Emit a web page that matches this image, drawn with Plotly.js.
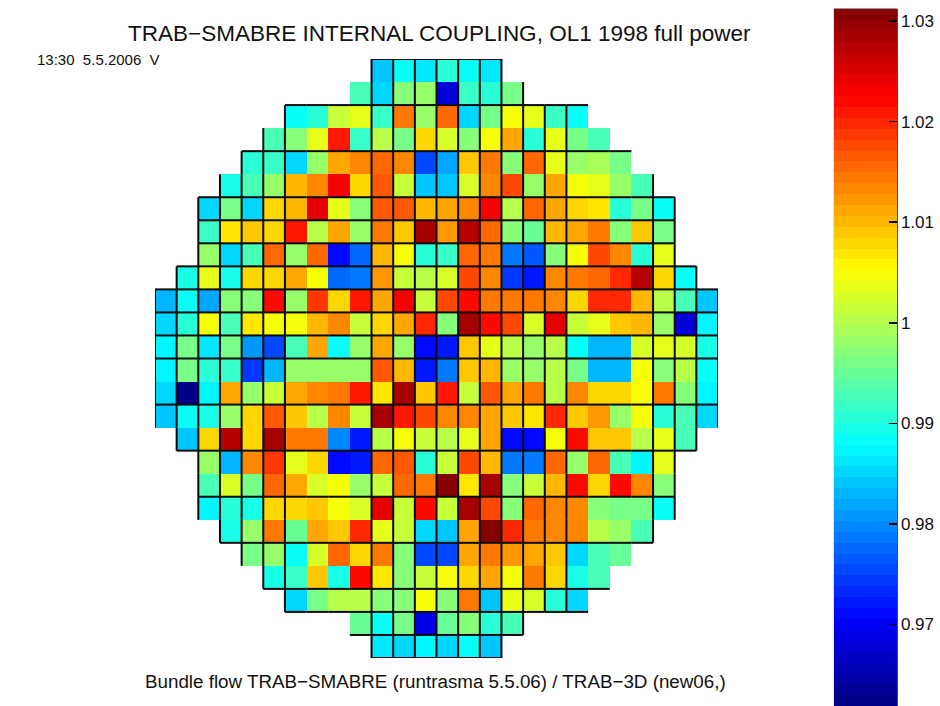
<!DOCTYPE html>
<html>
<head>
<meta charset="utf-8">
<script src="https://cdn.plot.ly/plotly-3.0.1.min.js"></script>
<style>html,body{margin:0;padding:0;background:#fff}#plot{width:940px;height:706px}</style>
</head>
<body>
<div id="plot"></div>
<script>
// Chart text
const titleText = "TRAB\u2212SMABRE INTERNAL COUPLING, OL1 1998 full power";
const stampText = "13:30  5.5.2006  V";
const captionText = "Bundle flow TRAB\u2212SMABRE (runtrasma 5.5.06) / TRAB\u22123D (new06,)";

// First occupied column of every row
const rowStart = [10,9,6,5,4,3,2,2,2,1,0,0,0,0,0,0,1,2,2,2,3,4,5,6,9,10];

// Cell values row by row, top to bottom
const row00 = [.9845,.9879,.986,.991,.988,.986];
const row01 = [.993,.985,.9966,.9987,.968,.992,.991,.9955];
const row02 = [.988,.991,1.0015,1.0035,.992,1.0139,.9987,1.015,.9857,.9955,1.0052,1.0035,.992,.988];
const row03 = [.993,.9966,1.0031,1.021,.992,1.000,.9955,1.0074,1.002,.9966,1.0052,1.0117,.991,1.0031,.9955,.993];
const row04 = [.991,.992,.9857,.9987,1.0117,1.0128,1.016,1.013,.9749,.9814,1.0095,1.0139,.9975,1.015,1.0031,.9987,.9995,.9955];
const row05 = [.990,.993,.9987,1.0105,1.0128,1.0236,1.008,1.017,1.0009,.984,.9845,1.002,1.013,1.0182,.9987,1.0117,1.0052,1.0035,.9987,.993];
const row06 = [.9857,.996,.9855,1.008,1.0105,1.024,1.0031,.9966,1.0165,1.017,1.0105,1.0117,1.0128,1.0236,1.000,1.015,1.0117,1.008,1.0065,.991,.9955,.988];
const row07 = [.992,1.007,1.0095,1.008,1.0204,1.000,1.0117,.9987,1.0139,1.009,1.029,1.012,1.0269,1.015,.9975,.9944,1.0105,1.0117,1.0145,.9966,1.0095,.996];
const row08 = [.9987,.9857,.993,1.0155,.9987,1.016,.9706,.978,1.0105,1.0052,.991,.992,1.015,1.0145,.9792,.977,.9966,1.0052,1.0182,1.0128,.991,1.0031];
const row09 = [.990,1.0035,.990,1.008,1.008,1.0117,1.0052,.978,.9792,1.012,1.0009,1.000,1.002,1.0182,1.0128,.974,.972,1.0128,1.0145,1.0155,1.0193,1.0269,1.0074,.988];
const row10 = [.9825,.988,.9814,.9966,.9966,1.0225,.9987,1.0187,1.0074,1.0204,1.0117,1.0236,1.0015,1.0177,1.0225,1.0145,1.0139,1.0139,1.0128,1.008,1.0193,1.0193,1.0105,1.000,.993,.984];
const row11 = [.9855,.991,1.0052,.993,1.007,1.0052,1.0052,1.0105,1.0134,1.0009,1.008,1.0117,1.0193,.9975,1.029,1.0215,1.0182,1.002,1.024,1.0015,1.0031,1.009,1.0105,.9987,.9675,.987];
const row12 = [.987,.9955,.986,.9955,.981,.9749,.993,1.0117,.988,.9987,1.0117,.9987,.9706,.9725,1.009,1.004,1.000,.9987,1.000,.988,.9825,.9825,1.0025,1.0031,1.002,.990];
const row13 = [.987,.996,.991,.992,.974,.9825,.9987,.9987,.9987,.9987,1.0165,1.010,.9725,.9792,1.0095,1.0105,.9987,.9987,1.000,.9955,.9825,.9825,1.0052,.9966,1.000,.988];
const row14 = [.9857,.9625,.987,1.0117,.9987,1.0009,1.0117,1.0128,1.0139,1.0204,1.007,1.028,1.009,1.0204,1.0009,1.017,1.0117,1.0139,1.000,1.0128,1.0074,1.008,1.0052,1.0139,.9975,.987];
const row15 = [.9845,.988,.990,.9987,1.008,1.0165,1.009,1.0005,1.0134,1.0015,1.028,1.0204,1.0182,1.0128,1.0128,1.011,1.0095,1.007,1.0193,1.0095,1.012,.9987,1.0052,.991,.993,.9857];
const row16 = [.9836,1.0074,1.0269,1.008,1.028,1.0145,1.0145,.980,.9725,1.0005,1.0052,1.0015,1.0005,1.0031,1.0117,.9715,.9706,1.0052,1.0225,1.009,1.009,1.000,1.0035,.993];
const row17 = [.9987,.9825,1.0128,1.0187,1.0035,1.008,.9706,.9725,1.015,1.0165,.991,1.0009,1.0177,1.0105,.9792,.9792,1.016,.9987,1.0155,.993,.987,1.0031];
const row18 = [.993,1.0025,.9955,1.015,1.011,1.002,1.0052,.9987,1.0009,1.015,1.0139,1.0312,1.007,1.028,.9975,1.0009,1.0105,1.0215,1.008,1.0215,1.0128,.9966];
const row19 = [.987,.991,.990,1.008,1.008,1.0095,1.0052,1.002,1.024,1.0009,1.0225,1.0009,1.029,1.0177,.9966,1.016,1.0128,1.0128,.9966,.9955,.996,.988];
const row20 = [.990,.9987,1.0139,.9944,1.0117,1.009,1.0193,1.0031,1.0009,.9855,.984,1.0117,1.0312,1.0193,1.0139,1.0128,1.0128,1.0005,.9987,.993];
const row21 = [.996,.9987,.988,1.002,1.015,1.008,1.0139,.9966,.9749,.9749,1.0117,1.0139,1.012,1.011,1.0088,.9855,.993,.9944];
const row22 = [.990,.992,1.009,.990,1.0225,1.007,.9975,1.0015,1.0052,1.0074,1.011,1.0052,1.0139,1.008,.990,.993];
const row23 = [.9855,.996,1.000,1.000,.997,.9975,1.0052,.9975,1.0139,.9836,1.0035,1.002,.991,.9855];
const row24 = [.9944,.988,.996,.9685,.9944,.9966,.991,.993];
const row25 = [.986,.9857,.987,.9857,.988,.9836];

const rows = [row00,row01,row02,row03,row04,row05,row06,row07,row08,row09,row10,row11,row12,
              row13,row14,row15,row16,row17,row18,row19,row20,row21,row22,row23,row24,row25];

// Colour scale range and colour bar ticks
const zMin = 0.9619, zMax = 1.0312;
const barTicks = [0.97,0.98,0.99,1.00,1.01,1.02,1.03];
const barLabels = ["0.97","0.98","0.99","1","1.01","1.02","1.03"];

// Grid boundaries that carry a visible line in the reference
const gridRowEdges = [0,2,4,6,7,8,9,10,11,12,13,15,17,19,21,23,24,25,26];
const gridColEdges = [0,1,2,3,4,5,6,10,11,12,13,14,15,16,17,18,19,23,24,25,26];

const N = 26, W = 940, H = 706;

// 64 level jet colormap
function jet(f){
  const c = v => Math.round(255*Math.max(0,Math.min(1,v)));
  const r = Math.min(4*f-1.5, -4*f+4.5);
  const g = Math.min(4*f-0.5, -4*f+3.5);
  const b = Math.min(4*f+0.5, -4*f+2.5);
  return `rgb(${c(r)},${c(g)},${c(b)})`;
}
const jetScale = [];
for(let i=0;i<64;i++){
  const col = jet((i+0.5)/64);
  jetScale.push([i/64,col]);
  jetScale.push([(i+1)/64,col]);
}

// Full grid with gaps outside the core
const z = rows.map((r,i)=>{
  const a = new Array(N).fill(null);
  r.forEach((v,j)=>{a[rowStart[i]+j]=v;});
  return a;
});
const occupied = (i,j)=> i>=0 && i<N && j>=0 && j<N && z[i][j]!==null;

// Grid lines follow the core's occupied cells
const lx=[], ly=[];
gridRowEdges.forEach(k=>{
  for(let j=0;j<N;j++){
    if(occupied(k-1,j)||occupied(k,j)){lx.push(j,j+1,null);ly.push(k,k,null);}
  }
});
gridColEdges.forEach(k=>{
  for(let i=0;i<N;i++){
    if(occupied(i,k-1)||occupied(i,k)){lx.push(k,k,null);ly.push(i,i+1,null);}
  }
});

const centers = Array.from({length:N},(_,i)=>i+0.5);

// Colour bar box in pixels
const barLeft=834, barRight=897, barTop=9, barBottom=706;
const px = x=>x/W, py = y=>1-y/H;
const tickY = v => (barBottom-(v-zMin)/(zMax-zMin)*(barBottom-barTop));

const traces = [
  {type:'heatmap', x:centers, y:centers, z:z, zmin:zMin, zmax:zMax, colorscale:jetScale,
   hoverongaps:false, xgap:0, ygap:0,
   colorbar:{x:px(barLeft), xanchor:'left', xpad:0, ypad:0,
     y:py(barBottom), yanchor:'bottom', lenmode:'pixels', len:barBottom-barTop,
     thicknessmode:'pixels', thickness:barRight-barLeft,
     outlinewidth:0, borderwidth:0,
     tickmode:'array', tickvals:barTicks, ticktext:barLabels,
     ticks:'inside', ticklen:8, tickwidth:1.5, tickcolor:'#000',
     tickfont:{family:'Liberation Sans, Arial, sans-serif', size:17, color:'#111'}}},
  {type:'scatter', mode:'lines', x:lx, y:ly, hoverinfo:'skip', showlegend:false,
   line:{color:'#0a0a0a', width:2}}
];

const shapes = [];
barTicks.forEach(v=>{
  shapes.push({type:'line',xref:'paper',yref:'paper',x0:px(barLeft),x1:px(barLeft+8),
    y0:py(tickY(v)),y1:py(tickY(v)),line:{color:'#000',width:1.5}});
});
shapes.push({type:'line',xref:'paper',yref:'paper',x0:px(barLeft),x1:px(barRight),y0:py(barTop),y1:py(barTop),line:{color:'#333',width:1}});
shapes.push({type:'line',xref:'paper',yref:'paper',x0:px(barRight),x1:px(barRight),y0:py(barTop),y1:py(barBottom),line:{color:'#111',width:1.5}});
shapes.push({type:'line',xref:'paper',yref:'paper',x0:px(barLeft),x1:px(barLeft),y0:py(barTop),y1:py(barBottom),line:{color:'#c8c8d0',width:1}});

const textFont = s => ({family:'Liberation Sans, Arial, sans-serif', size:s, color:'#111'});

const layout = {
  width:W, height:H, paper_bgcolor:'#fff', plot_bgcolor:'#fff',
  margin:{l:0,r:0,t:0,b:0,autoexpand:false}, showlegend:false,
  xaxis:{domain:[px(155),px(718)], range:[0,N], visible:false, fixedrange:true},
  yaxis:{domain:[py(658),py(59)], range:[N,0], visible:false, fixedrange:true},
  shapes:shapes,
  annotations:[
    {xref:'paper',yref:'paper',x:px(439),y:py(34),xanchor:'center',yanchor:'middle',showarrow:false,
     text:titleText,font:textFont(22.5)},
    {xref:'paper',yref:'paper',x:px(35),y:py(60),xanchor:'left',yanchor:'middle',showarrow:false,
     text:stampText,font:textFont(15)},
    {xref:'paper',yref:'paper',x:px(435),y:py(681),xanchor:'center',yanchor:'middle',showarrow:false,
     text:captionText,font:textFont(18.8)}
  ]
};

Plotly.newPlot('plot',traces,layout,{staticPlot:true,displayModeBar:false});
</script>
</body>
</html>
